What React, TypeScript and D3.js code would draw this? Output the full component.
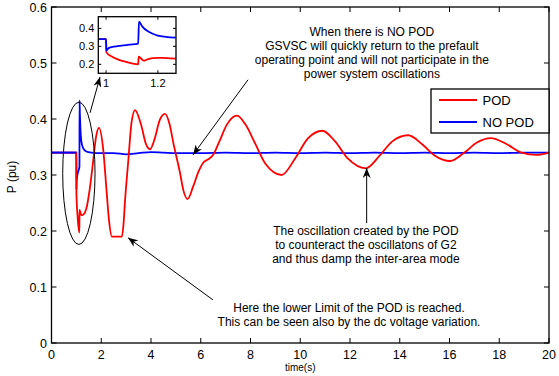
import React from "react";
import * as d3 from "d3";

// time (s) and P (pu)
const podTime = [0, 1.0, 1.002, 1.05, 1.12, 1.125, 1.2, 1.3, 1.4, 1.55, 1.68, 1.79, 1.91, 2.08, 2.22, 2.31, 2.43, 2.83, 2.9, 2.95, 3.09, 3.22, 3.36, 3.6, 3.8, 3.96, 4.15, 4.35, 4.56, 4.75, 4.9, 5.17, 5.3, 5.47, 5.7, 5.9, 6.1, 6.3, 6.5, 6.75, 7.05, 7.46, 7.8, 8.2, 8.6, 9.25, 9.8, 10.3, 10.89, 11.4, 11.9, 12.64, 13.2, 13.7, 14.34, 14.9, 15.4, 16.02, 16.6, 17.1, 17.66, 18.3, 18.9, 19.5, 20];
const podP = [0.34, 0.34, 0.268, 0.225, 0.197, 0.238, 0.228, 0.23, 0.24, 0.279, 0.327, 0.368, 0.384, 0.345, 0.268, 0.22, 0.19, 0.19, 0.215, 0.25, 0.327, 0.395, 0.416, 0.39, 0.355, 0.346, 0.365, 0.398, 0.409, 0.39, 0.357, 0.303, 0.273, 0.257, 0.28, 0.305, 0.322, 0.328, 0.336, 0.36, 0.39, 0.406, 0.39, 0.355, 0.32, 0.3, 0.33, 0.365, 0.379, 0.36, 0.33, 0.312, 0.335, 0.36, 0.371, 0.355, 0.335, 0.325, 0.34, 0.358, 0.366, 0.355, 0.34, 0.336, 0.34];

const noPodTime = [0, 1.0, 1.002, 1.01, 1.06, 1.124, 1.127, 1.14, 1.16, 1.2, 1.27, 1.4, 1.6, 2.0, 2.5, 3.0, 3.5, 4.0, 4.5, 5.0, 6.0, 7.0, 8.0, 9.0, 10.0, 11.0, 12.0, 13.0, 14.0, 15.0, 16.0, 17.0, 18.0, 19.0, 20];
const noPodP = [0.34, 0.34, 0.274, 0.29, 0.304, 0.315, 0.433, 0.41, 0.385, 0.36, 0.348, 0.342, 0.34, 0.339, 0.339, 0.337, 0.339, 0.341, 0.34, 0.339, 0.339, 0.34, 0.339, 0.34, 0.339, 0.34, 0.339, 0.34, 0.339, 0.34, 0.339, 0.34, 0.339, 0.34, 0.34];

// zoomed inset (t = 0.97 .. 1.27)
const inPodTime = [0.97, 1.0, 1.001, 1.02, 1.05, 1.08, 1.1, 1.124, 1.126, 1.14, 1.145, 1.16, 1.18, 1.2, 1.22, 1.25, 1.27];
const inPodP = [0.34, 0.34, 0.268, 0.245, 0.225, 0.212, 0.205, 0.2, 0.243, 0.225, 0.22, 0.228, 0.234, 0.236, 0.236, 0.233, 0.232];
const inNoPodTime = [0.97, 1.0, 1.001, 1.01, 1.03, 1.06, 1.09, 1.124, 1.127, 1.14, 1.16, 1.18, 1.2, 1.23, 1.27];
const inNoPodP = [0.34, 0.34, 0.277, 0.29, 0.298, 0.304, 0.309, 0.315, 0.437, 0.41, 0.385, 0.37, 0.36, 0.353, 0.348];

const xTicks = [0, 2, 4, 6, 8, 10, 12, 14, 16, 18, 20];
const yTicks = [0, 0.1, 0.2, 0.3, 0.4, 0.5, 0.6];
const inXTicks = [1, 1.2];
const inYTicks = [0.2, 0.3, 0.4];

const seriesNames = ["POD", "NO POD"];
const seriesColors = ["#ff0000", "#0000ff"];

const note1 = ["When there is NO POD", "GSVSC will quickly return to the prefault", "operating point and will not participate in the", "power system oscillations"];
const note2 = ["The oscillation created by the POD", "to counteract the oscillatons of G2", "and thus damp the inter-area mode"];
const note3 = ["Here the lower Limit of the POD is reached.", "This can be seen also by the dc voltage variation."];

const W = 559, H = 376;
const font = "Liberation Sans, Arial, sans-serif";

export default function App() {
  const x = d3.scaleLinear().domain([0, 20]).range([51.5, 549]);
  const y = d3.scaleLinear().domain([0, 0.6]).range([343, 7]);

  const ix = d3.scaleLinear().domain([0.97, 1.27]).range([98.3, 176]);
  const iy = d3.scaleLinear().domain([0.15, 0.465]).range([73.3, 16.7]);

  const mk = (ts: number[], vs: number[], sx: any, sy: any) =>
    d3.line<number>().x((_, i) => sx(ts[i])).y((v) => sy(v)).curve(d3.curveMonotoneX)(vs) || "";

  const podPath = mk(podTime, podP, x, y);
  const noPodPath = mk(noPodTime, noPodP, x, y);
  const inPod = mk(inPodTime, inPodP, ix, iy);
  const inNoPod = mk(inNoPodTime, inNoPodP, ix, iy);

  const [x0, x1] = x.range();
  const [y0, y1] = y.range();
  const tl = 5;

  // annotations in data coordinates
  const arrows = [
    [1.55, 0.411, 1.95, 0.475],
    [7.9, 0.47, 5.69, 0.336],
    [12.67, 0.214, 12.67, 0.3125],
    [6.49, 0.077, 3.075, 0.188],
  ];

  return (
    <svg width={W} height={H} style={{ position: "absolute", left: 0, top: 0, background: "#fff" }} fontFamily={font}>
      <defs>
        <marker id="ah" viewBox="0 0 10 8" refX="10" refY="4" markerWidth="10" markerHeight="8" markerUnits="userSpaceOnUse" orient="auto">
          <path d="M0,0 L10,4 L0,8 L3,4 Z" fill="#000" />
        </marker>
      </defs>
      <rect width={W} height={H} fill="#fff" />

      {/* data */}
      <path d={noPodPath} fill="none" stroke={seriesColors[1]} strokeWidth={1.8} />
      <path d={podPath} fill="none" stroke={seriesColors[0]} strokeWidth={1.8} />
      <path d={mk(noPodTime.slice(0, 2), noPodP.slice(0, 2), x, y)} fill="none" stroke={seriesColors[1]} strokeWidth={1.8} />

      {/* axes box + ticks */}
      <rect x={x0} y={y1} width={x1 - x0} height={y0 - y1} fill="none" stroke="#000" strokeWidth={1.3} />
      {xTicks.map((t) => (
        <g key={"x" + t}>
          <line x1={x(t)} x2={x(t)} y1={y0} y2={y0 - tl} stroke="#000" />
          <line x1={x(t)} x2={x(t)} y1={y1} y2={y1 + tl} stroke="#000" />
          <text x={x(t)} y={y0 + 15.5} fontSize={12.5} textAnchor="middle">{t}</text>
        </g>
      ))}
      {yTicks.map((v) => (
        <g key={"y" + v}>
          <line x1={x0} x2={x0 + tl} y1={y(v)} y2={y(v)} stroke="#000" />
          <line x1={x1} x2={x1 - tl} y1={y(v)} y2={y(v)} stroke="#000" />
          <text x={x0 - 4.5} y={y(v)} dy="0.36em" fontSize={12.5} textAnchor="end">{v === 0 ? "0" : v.toFixed(1)}</text>
        </g>
      ))}
      <text x={x(10)} y={371} fontSize={10} textAnchor="middle">time(s)</text>
      <text transform={`translate(16,${(y0 + y1) / 2 + 2}) rotate(-90)`} fontSize={12} textAnchor="middle">P (pu)</text>

      {/* inset */}
      <rect x={ix.range()[0]} y={iy.range()[1]} width={ix.range()[1] - ix.range()[0]} height={iy.range()[0] - iy.range()[1]} fill="#fff" />
      <path d={inPod} fill="none" stroke={seriesColors[0]} strokeWidth={1.8} />
      <path d={inNoPod} fill="none" stroke={seriesColors[1]} strokeWidth={1.8} />
      <rect x={ix.range()[0]} y={iy.range()[1]} width={ix.range()[1] - ix.range()[0]} height={iy.range()[0] - iy.range()[1]} fill="none" stroke="#000" strokeWidth={1.3} />
      {inXTicks.map((t) => (
        <g key={"ix" + t}>
          <line x1={ix(t)} x2={ix(t)} y1={iy.range()[0]} y2={iy.range()[0] - 3} stroke="#000" />
          <line x1={ix(t)} x2={ix(t)} y1={iy.range()[1]} y2={iy.range()[1] + 3} stroke="#000" />
          <text x={ix(t)} y={iy.range()[0] + 14} fontSize={11} textAnchor="middle">{t === 1 ? "1" : t.toFixed(1)}</text>
        </g>
      ))}
      {inYTicks.map((v) => (
        <g key={"iy" + v}>
          <line x1={ix.range()[0]} x2={ix.range()[0] + 3} y1={iy(v)} y2={iy(v)} stroke="#000" />
          <line x1={ix.range()[1]} x2={ix.range()[1] - 3} y1={iy(v)} y2={iy(v)} stroke="#000" />
          <text x={ix.range()[0] - 4} y={iy(v)} dy="0.36em" fontSize={11} textAnchor="end">{v.toFixed(1)}</text>
        </g>
      ))}

      {/* ellipse around the fault transient */}
      <ellipse cx={x(1.1)} cy={y(0.303)} rx={x(0.65) - x(0)} ry={y(0) - y(0.127)} fill="none" stroke="#000" strokeWidth={1} />

      {arrows.map((a, i) => (
        <line key={"a" + i} x1={x(a[0])} y1={y(a[1])} x2={x(a[2])} y2={y(a[3])} stroke="#000" strokeWidth={1} markerEnd="url(#ah)" />
      ))}

      {/* notes */}
      <g fontSize={12} textAnchor="middle">
        {note1.map((s, i) => (
          <text key={"n1" + i} x={x(12.88)} y={36 + i * 14}>{s}</text>
        ))}
        {note2.map((s, i) => (
          <text key={"n2" + i} x={x(12.64)} y={235 + i * 14}>{s}</text>
        ))}
        {note3.map((s, i) => (
          <text key={"n3" + i} x={x(11.96)} y={312 + i * 14}>{s}</text>
        ))}
      </g>

      {/* legend */}
      <rect x={431} y={89} width={118} height={44} fill="#fff" stroke="#000" strokeWidth={1.3} />
      {seriesNames.map((n, i) => (
        <g key={n}>
          <line x1={439} x2={477} y1={100 + i * 22} y2={100 + i * 22} stroke={seriesColors[i]} strokeWidth={1.8} />
          <text x={482.5} y={100 + i * 22} dy="0.36em" fontSize={13}>{n}</text>
        </g>
      ))}
    </svg>
  );
}
